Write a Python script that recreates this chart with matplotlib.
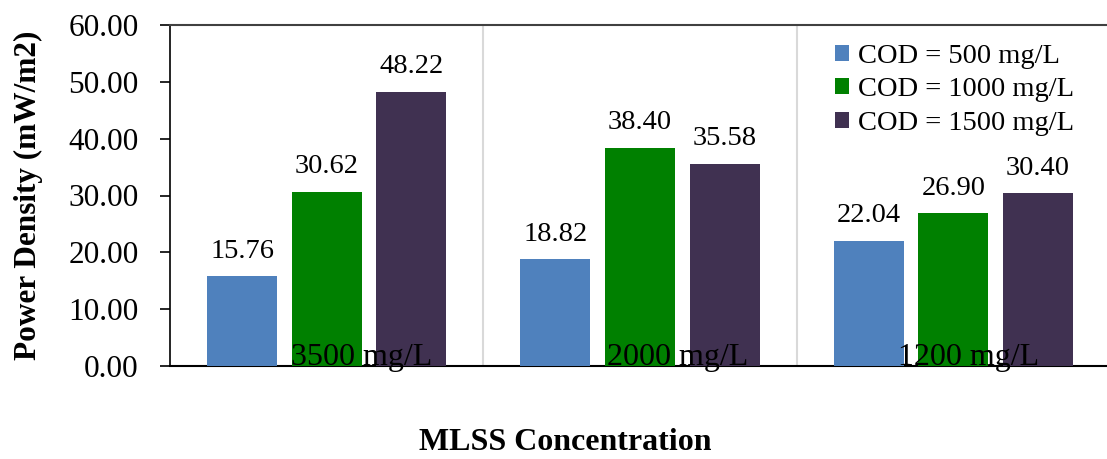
import matplotlib.pyplot as plt
import numpy as np

plt.rcParams['font.family'] = ['Liberation Serif', 'DejaVu Serif']

# data
categories = ["3500 mg/L", "2000 mg/L", "1200 mg/L"]
series_names = ["COD = 500 mg/L", "COD = 1000 mg/L", "COD = 1500 mg/L"]
cod_500 = [15.76, 18.82, 22.04]
cod_1000 = [30.62, 38.40, 26.90]
cod_1500 = [48.22, 35.58, 30.40]
colors = ["#4F81BD", "#008000", "#403151"]
# the category labels in the original are not centred on their groups
label_shift = [0.11, 0.12, 0.05]

fig = plt.figure(figsize=(11.07, 4.59), dpi=100)
ax = fig.add_axes([170 / 1107, 93 / 459, 940 / 1107, 341 / 459])

x = np.arange(len(categories))
width = 0.224
offset = 0.27

for i, (vals, name, col) in enumerate(zip([cod_500, cod_1000, cod_1500], series_names, colors)):
    pos = x + (i - 1) * offset
    ax.bar(pos, vals, width, color=col, label=name, zorder=3)
    for p, v in zip(pos, vals):
        ax.text(p, v + 2.2, f"{v:.2f}", ha='center', va='bottom', fontsize=20.5)

# category labels sit inside the plot, on the baseline
for xi, c, sh in zip(x, categories, label_shift):
    ax.text(xi + sh, 0.15, c, ha='center', va='baseline', fontsize=23, zorder=4)

# group separators
for s in [0.5, 1.5]:
    ax.axvline(s, color='#D9D9D9', lw=1.5, zorder=1)

ax.set_xlim(-0.5, 2.5)
ax.set_ylim(0, 60)
ax.set_yticks(np.arange(0, 61, 10))
ax.set_yticklabels([f"{t:.2f}" for t in np.arange(0, 61, 10)], fontsize=22.5)
ax.set_xticks([])
ax.tick_params(axis='y', direction='out', length=7.5, width=1.2, pad=15)

ax.spines['right'].set_visible(False)
ax.spines['left'].set_linewidth(1.2)
ax.spines['bottom'].set_linewidth(1.5)
ax.spines['top'].set_color('#404040')
ax.spines['top'].set_linewidth(1.5)

ax.set_ylabel("Power Density (mW/m2)", fontsize=22.5, fontweight='bold', labelpad=18)
fig.text(565 / 1107, 16 / 459, "MLSS Concentration", ha='center', va='center',
         fontsize=23, fontweight='bold')

ax.legend(loc='upper right', bbox_to_anchor=(0.989, 1.02), frameon=False, fontsize=20.5,
          handlelength=0.5, handleheight=0.5, handletextpad=0.3, labelspacing=0.3)

fig.savefig("out.png", dpi=100)
